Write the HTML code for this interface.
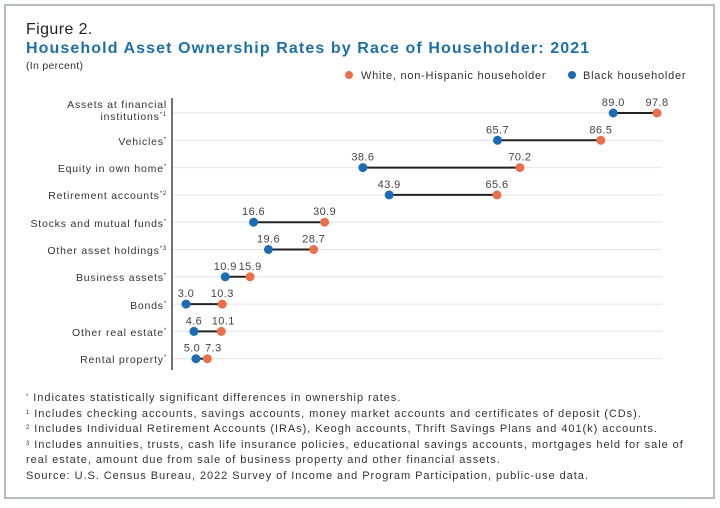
<!DOCTYPE html>
<html><head><meta charset="utf-8"><style>
body{margin:0;background:#fff;width:720px;height:503px;overflow:hidden;font-family:"Liberation Sans",sans-serif}
</style></head><body>
<svg width="720" height="503" xmlns="http://www.w3.org/2000/svg" font-family="Liberation Sans, sans-serif">
<rect x="5" y="5" width="709" height="493" fill="#fff" stroke="#b8bcc2" stroke-width="2"/>
<text x="26" y="34" font-size="16" letter-spacing="0.4" fill="#222">Figure 2.</text>
<text x="26" y="53" font-size="16" font-weight="bold" letter-spacing="1.1" fill="#1d6fa8">Household Asset Ownership Rates by Race of Householder: 2021</text>
<text x="26" y="69" font-size="10.5" letter-spacing="0.3" fill="#333">(In percent)</text>
<circle cx="349" cy="75" r="4" fill="#e8704a"/>
<text x="361" y="79" font-size="11" letter-spacing="0.75" fill="#333">White, non-Hispanic householder</text>
<circle cx="572" cy="75" r="4" fill="#1c6cb5"/>
<text x="583" y="79" font-size="11" letter-spacing="0.75" fill="#333">Black householder</text>
<line x1="172" y1="98" x2="172" y2="370" stroke="#444" stroke-width="1.5"/>
<g font-size="10.5" letter-spacing="0.8" fill="#333" text-anchor="end">
<text x="167" y="108">Assets at financial</text>
<text x="167" y="120">institutions<tspan font-size="6" dy="-4">*1</tspan></text>
<text x="167" y="145">Vehicles<tspan font-size="6" dy="-4">*</tspan></text>
<text x="167" y="172">Equity in own home<tspan font-size="6" dy="-4">*</tspan></text>
<text x="167" y="199">Retirement accounts<tspan font-size="6" dy="-4">*2</tspan></text>
<text x="167" y="227">Stocks and mutual funds<tspan font-size="6" dy="-4">*</tspan></text>
<text x="167" y="254">Other asset holdings<tspan font-size="6" dy="-4">*3</tspan></text>
<text x="167" y="281">Business assets<tspan font-size="6" dy="-4">*</tspan></text>
<text x="167" y="309">Bonds<tspan font-size="6" dy="-4">*</tspan></text>
<text x="167" y="336">Other real estate<tspan font-size="6" dy="-4">*</tspan></text>
<text x="167" y="363">Rental property<tspan font-size="6" dy="-4">*</tspan></text>
</g>
<g id="d" font-size="11" letter-spacing="0.4" fill="#444" text-anchor="middle">
</g>
<script>
var rows=[[89.0,97.8],[65.7,86.5],[38.6,70.2],[43.9,65.6],[16.6,30.9],[19.6,28.7],[10.9,15.9],[3.0,10.3],[4.6,10.1],[5.0,7.3]];
var g=document.getElementById('d'),ns='http://www.w3.org/2000/svg';
function X(v){return 171.1+v*4.968}
function el(t,a,txt){var e=document.createElementNS(ns,t);for(var k in a)e.setAttribute(k,a[k]);if(txt)e.textContent=txt;g.appendChild(e);return e}
rows.forEach(function(r,i){var y=113+27.3*i;
el('line',{x1:173,y1:y,x2:662,y2:y,stroke:'#e4e4e4','stroke-width':1});});
rows.forEach(function(r,i){var y=113+27.3*i,b=X(r[0]),w=X(r[1]);
var ob=0,ow=0;if(i==9){ob=-4;ow=6;}if(i==8){ow=2;}
el('line',{x1:b,y1:y,x2:w,y2:y,stroke:'#222','stroke-width':2});
el('circle',{cx:b,cy:y,r:4.5,fill:'#1c6cb5'});el('circle',{cx:w,cy:y,r:4.5,fill:'#e8704a'});
el('text',{x:b+ob,y:y-7},r[0].toFixed(1));el('text',{x:w+ow,y:y-7},r[1].toFixed(1));});
</script>
<g font-size="11" letter-spacing="0.95" fill="#333">
<text x="26" y="401"><tspan font-size="6" dy="-3">*</tspan><tspan dy="3"> Indicates statistically significant differences in ownership rates.</tspan></text>
<text x="26" y="417"><tspan font-size="6" dy="-3">1</tspan><tspan dy="3"> Includes checking accounts, savings accounts, money market accounts and certificates of deposit (CDs).</tspan></text>
<text x="26" y="432"><tspan font-size="6" dy="-3">2</tspan><tspan dy="3"> Includes Individual Retirement Accounts (IRAs), Keogh accounts, Thrift Savings Plans and 401(k) accounts.</tspan></text>
<text x="26" y="448"><tspan font-size="6" dy="-3">3</tspan><tspan dy="3"> Includes annuities, trusts, cash life insurance policies, educational savings accounts, mortgages held for sale of</tspan></text>
<text x="26" y="463">real estate, amount due from sale of business property and other financial assets.</text>
<text x="26" y="479">Source: U.S. Census Bureau, 2022 Survey of Income and Program Participation, public-use data.</text>
</g>
</svg>
</body></html>
